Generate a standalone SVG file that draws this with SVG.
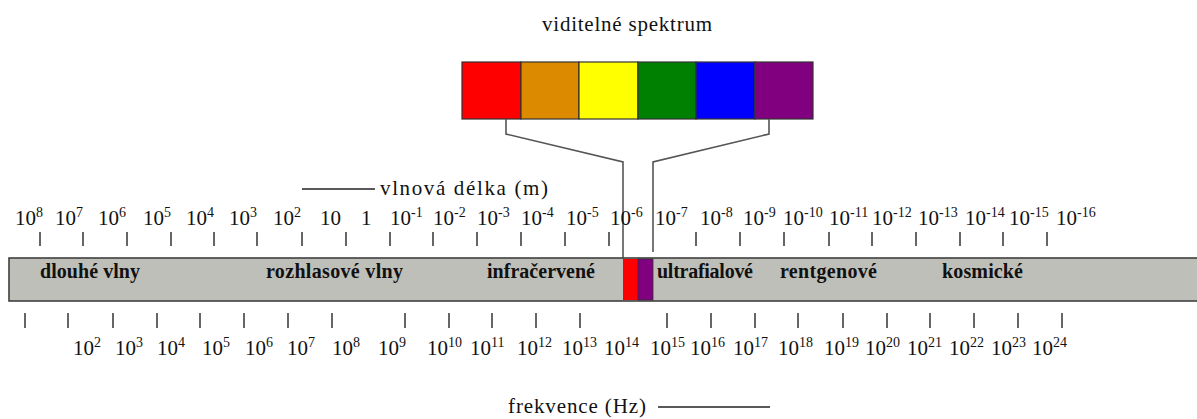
<svg xmlns="http://www.w3.org/2000/svg" width="1197" height="419" viewBox="0 0 1197 419">
  <style>
    .lbl { font-family: "Liberation Serif", "Times New Roman", serif; fill: #111; }
    .title { font-size: 21px; }
    .band { font-size: 20px; font-weight: bold; }
    .num { font-size: 21px; }
    .sup { font-size: 14px; }
    .tick { stroke: #333; stroke-width: 1.5; }
    .conn { fill: none; stroke: #555; stroke-width: 1.6; }
    .cell { stroke: #333; stroke-width: 1.2; }
  </style>

  <rect width="1197" height="419" fill="#ffffff"/>

  <!-- visible spectrum block -->
  <g id="visible-spectrum">
    <text class="lbl title" x="542" y="31" textLength="170" lengthAdjust="spacing">viditelné spektrum</text>
    <rect class="cell" x="462" y="62" width="59" height="57" fill="#ff0000"/>
    <rect class="cell" x="521" y="62" width="58" height="57" fill="#dc8a00"/>
    <rect class="cell" x="579" y="62" width="59" height="57" fill="#ffff00"/>
    <rect class="cell" x="638" y="62" width="58" height="57" fill="#008000"/>
    <rect class="cell" x="696" y="62" width="59" height="57" fill="#0000ff"/>
    <rect class="cell" x="755" y="62" width="58" height="57" fill="#800080"/>
  </g>

  <!-- connectors from the visible block down to the scale -->
  <g id="connectors">
    <polyline class="conn" points="506,119 506,134 623,162 623,259"/>
    <polyline class="conn" points="769,119 769,134 653,162 653,252"/>
  </g>

  <!-- wavelength axis caption -->
  <g id="wavelength-caption">
    <line x1="302" y1="189" x2="375" y2="189" stroke="#222" stroke-width="1.3"/>
    <text class="lbl title" x="380" y="195" textLength="168" lengthAdjust="spacing">vlnová délka (m)</text>
  </g>

  <!-- wavelength labels -->
  <g id="wavelength-labels" class="lbl num">
    <text x="15" y="225">10<tspan class="sup" dy="-8">8</tspan></text>
    <text x="55" y="225">10<tspan class="sup" dy="-8">7</tspan></text>
    <text x="98" y="225">10<tspan class="sup" dy="-8">6</tspan></text>
    <text x="143" y="225">10<tspan class="sup" dy="-8">5</tspan></text>
    <text x="186" y="225">10<tspan class="sup" dy="-8">4</tspan></text>
    <text x="229" y="225">10<tspan class="sup" dy="-8">3</tspan></text>
    <text x="273" y="225">10<tspan class="sup" dy="-8">2</tspan></text>
    <text x="320" y="225">10</text>
    <text x="361" y="225">1</text>
    <text x="390" y="225">10<tspan class="sup" dy="-8">-1</tspan></text>
    <text x="433" y="225">10<tspan class="sup" dy="-8">-2</tspan></text>
    <text x="477" y="225">10<tspan class="sup" dy="-8">-3</tspan></text>
    <text x="521" y="225">10<tspan class="sup" dy="-8">-4</tspan></text>
    <text x="566" y="225">10<tspan class="sup" dy="-8">-5</tspan></text>
    <text x="610" y="225">10<tspan class="sup" dy="-8">-6</tspan></text>
    <text x="655" y="225">10<tspan class="sup" dy="-8">-7</tspan></text>
    <text x="700" y="225">10<tspan class="sup" dy="-8">-8</tspan></text>
    <text x="743" y="225">10<tspan class="sup" dy="-8">-9</tspan></text>
    <text x="783" y="225">10<tspan class="sup" dy="-8">-10</tspan></text>
    <text x="829" y="225">10<tspan class="sup" dy="-8">-11</tspan></text>
    <text x="872" y="225">10<tspan class="sup" dy="-8">-12</tspan></text>
    <text x="918" y="225">10<tspan class="sup" dy="-8">-13</tspan></text>
    <text x="965" y="225">10<tspan class="sup" dy="-8">-14</tspan></text>
    <text x="1009" y="225">10<tspan class="sup" dy="-8">-15</tspan></text>
    <text x="1056" y="225">10<tspan class="sup" dy="-8">-16</tspan></text>
  </g>

  <!-- wavelength ticks -->
  <g id="wavelength-ticks" class="tick">
    <line x1="40" y1="232" x2="40" y2="246"/>
    <line x1="83" y1="232" x2="83" y2="246"/>
    <line x1="127" y1="232" x2="127" y2="246"/>
    <line x1="171" y1="232" x2="171" y2="246"/>
    <line x1="214" y1="232" x2="214" y2="246"/>
    <line x1="257" y1="232" x2="257" y2="246"/>
    <line x1="302" y1="232" x2="302" y2="246"/>
    <line x1="346" y1="232" x2="346" y2="246"/>
    <line x1="390" y1="232" x2="390" y2="246"/>
    <line x1="433" y1="232" x2="433" y2="246"/>
    <line x1="477" y1="232" x2="477" y2="246"/>
    <line x1="521" y1="232" x2="521" y2="246"/>
    <line x1="565" y1="232" x2="565" y2="246"/>
    <line x1="609" y1="232" x2="609" y2="246"/>
    <line x1="696" y1="232" x2="696" y2="246"/>
    <line x1="740" y1="232" x2="740" y2="246"/>
    <line x1="784" y1="232" x2="784" y2="246"/>
    <line x1="829" y1="232" x2="829" y2="246"/>
    <line x1="872" y1="232" x2="872" y2="246"/>
    <line x1="916" y1="232" x2="916" y2="246"/>
    <line x1="960" y1="232" x2="960" y2="246"/>
    <line x1="1003" y1="232" x2="1003" y2="246"/>
    <line x1="1047" y1="232" x2="1047" y2="246"/>
  </g>

  <!-- spectrum band -->
  <g id="spectrum-band">
    <rect x="9" y="258" width="1200" height="43" fill="#bfbfba" stroke="#404040" stroke-width="1.6"/>
    <rect x="623" y="259" width="15" height="41" fill="#ff0000"/>
    <rect x="638" y="259" width="15" height="41" fill="#800080" stroke="#333" stroke-width="0.8"/>
    <g class="lbl band">
      <text x="40" y="278" textLength="100" lengthAdjust="spacing">dlouhé vlny</text>
      <text x="266" y="278" textLength="137" lengthAdjust="spacing">rozhlasové vlny</text>
      <text x="487" y="278" textLength="108" lengthAdjust="spacing">infračervené</text>
      <text x="657" y="278" textLength="96" lengthAdjust="spacing">ultrafialové</text>
      <text x="780" y="278" textLength="97" lengthAdjust="spacing">rentgenové</text>
      <text x="942" y="278" textLength="81" lengthAdjust="spacing">kosmické</text>
    </g>
  </g>

  <!-- frequency ticks -->
  <g id="frequency-ticks" class="tick">
    <line x1="25" y1="313" x2="25" y2="328"/>
    <line x1="68" y1="313" x2="68" y2="328"/>
    <line x1="113" y1="313" x2="113" y2="328"/>
    <line x1="157" y1="313" x2="157" y2="328"/>
    <line x1="200" y1="313" x2="200" y2="328"/>
    <line x1="244" y1="313" x2="244" y2="328"/>
    <line x1="288" y1="313" x2="288" y2="328"/>
    <line x1="332" y1="313" x2="332" y2="328"/>
    <line x1="405" y1="313" x2="405" y2="328"/>
    <line x1="449" y1="313" x2="449" y2="328"/>
    <line x1="492" y1="313" x2="492" y2="328"/>
    <line x1="536" y1="313" x2="536" y2="328"/>
    <line x1="580" y1="313" x2="580" y2="328"/>
    <line x1="667" y1="313" x2="667" y2="328"/>
    <line x1="711" y1="313" x2="711" y2="328"/>
    <line x1="755" y1="313" x2="755" y2="328"/>
    <line x1="798" y1="313" x2="798" y2="328"/>
    <line x1="843" y1="313" x2="843" y2="328"/>
    <line x1="887" y1="313" x2="887" y2="328"/>
    <line x1="930" y1="313" x2="930" y2="328"/>
    <line x1="974" y1="313" x2="974" y2="328"/>
    <line x1="1018" y1="313" x2="1018" y2="328"/>
    <line x1="1062" y1="313" x2="1062" y2="328"/>
  </g>

  <!-- frequency labels -->
  <g id="frequency-labels" class="lbl num">
    <text x="73" y="355">10<tspan class="sup" dy="-8">2</tspan></text>
    <text x="115" y="355">10<tspan class="sup" dy="-8">3</tspan></text>
    <text x="157" y="355">10<tspan class="sup" dy="-8">4</tspan></text>
    <text x="202" y="355">10<tspan class="sup" dy="-8">5</tspan></text>
    <text x="245" y="355">10<tspan class="sup" dy="-8">6</tspan></text>
    <text x="287" y="355">10<tspan class="sup" dy="-8">7</tspan></text>
    <text x="332" y="355">10<tspan class="sup" dy="-8">8</tspan></text>
    <text x="378" y="355">10<tspan class="sup" dy="-8">9</tspan></text>
    <text x="427" y="355">10<tspan class="sup" dy="-8">10</tspan></text>
    <text x="470" y="355">10<tspan class="sup" dy="-8">11</tspan></text>
    <text x="517" y="355">10<tspan class="sup" dy="-8">12</tspan></text>
    <text x="562" y="355">10<tspan class="sup" dy="-8">13</tspan></text>
    <text x="604" y="355">10<tspan class="sup" dy="-8">14</tspan></text>
    <text x="650" y="355">10<tspan class="sup" dy="-8">15</tspan></text>
    <text x="690" y="355">10<tspan class="sup" dy="-8">16</tspan></text>
    <text x="733" y="355">10<tspan class="sup" dy="-8">17</tspan></text>
    <text x="778" y="355">10<tspan class="sup" dy="-8">18</tspan></text>
    <text x="824" y="355">10<tspan class="sup" dy="-8">19</tspan></text>
    <text x="865" y="355">10<tspan class="sup" dy="-8">20</tspan></text>
    <text x="907" y="355">10<tspan class="sup" dy="-8">21</tspan></text>
    <text x="949" y="355">10<tspan class="sup" dy="-8">22</tspan></text>
    <text x="991" y="355">10<tspan class="sup" dy="-8">23</tspan></text>
    <text x="1032" y="355">10<tspan class="sup" dy="-8">24</tspan></text>
  </g>

  <!-- frequency axis caption -->
  <g id="frequency-caption">
    <text class="lbl title" x="508" y="413" textLength="138" lengthAdjust="spacing">frekvence (Hz)</text>
    <line x1="658" y1="407" x2="770" y2="407" stroke="#222" stroke-width="1.3"/>
  </g>
</svg>
